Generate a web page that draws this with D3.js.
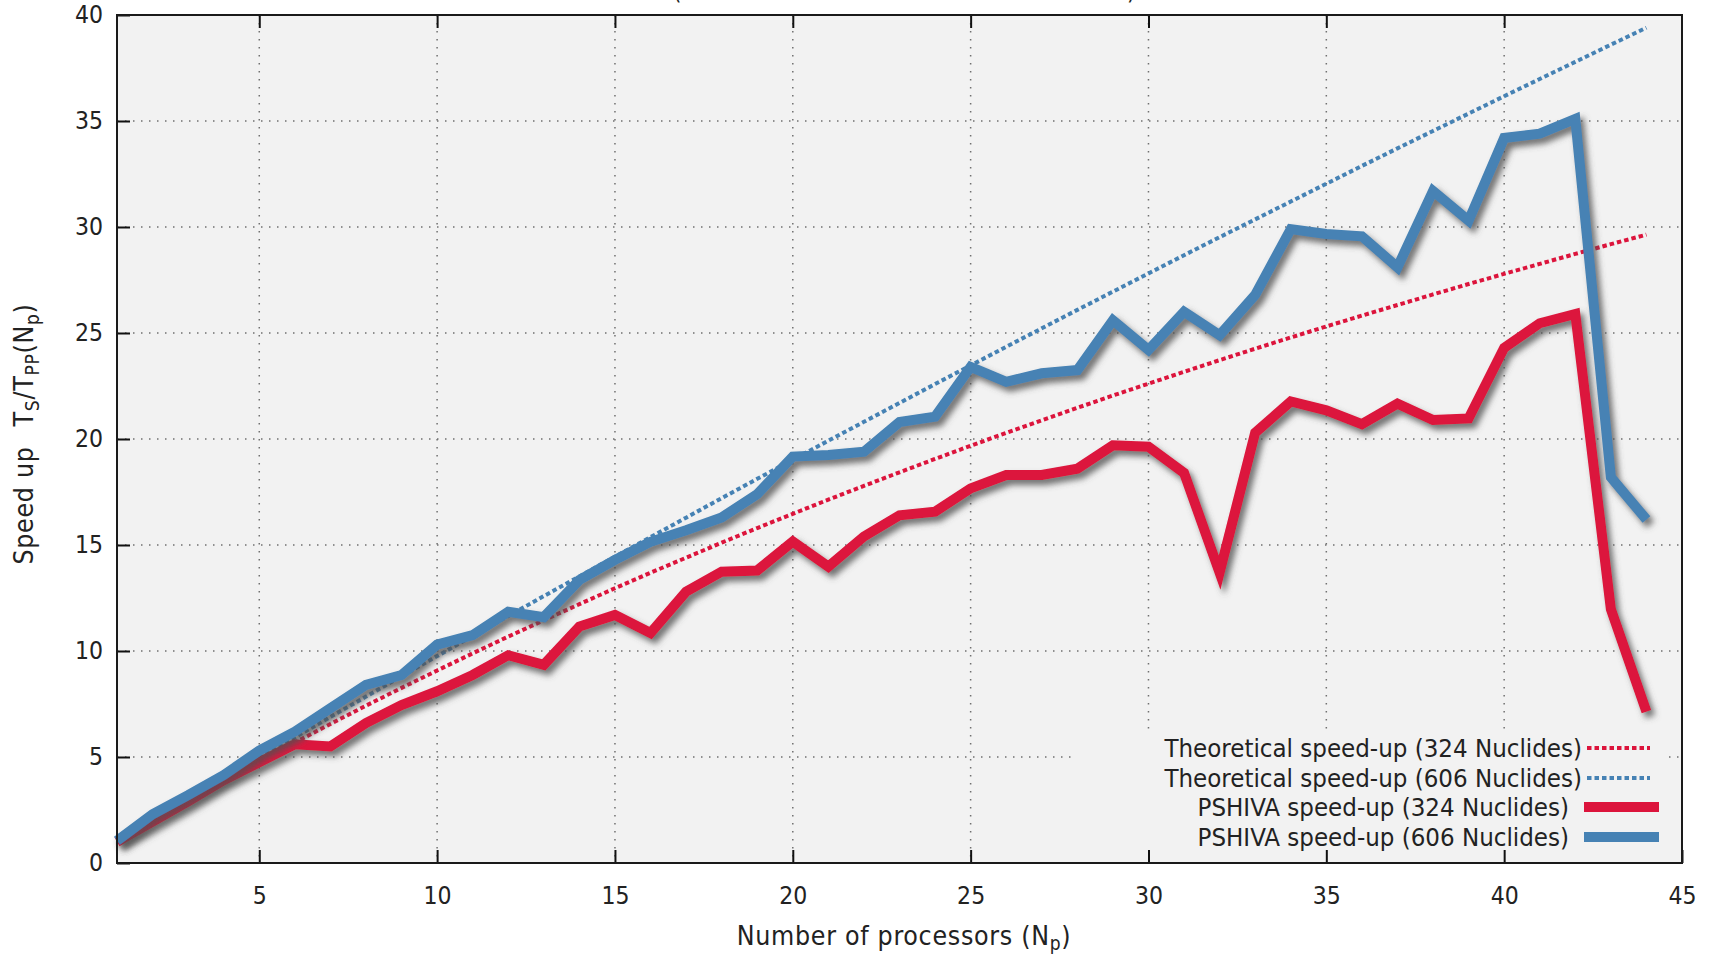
<html>
<style>
  body { margin: 0; background: white; }
  svg text, .axis text {
    font-family: "DejaVu Sans Condensed", "DejaVu Sans", sans-serif;
    font-stretch: condensed;
    fill: #222;
  }
  .axis .domain { stroke: none; }
  .axis line { stroke: #111; stroke-width: 2; }
  .gridlines line { stroke: #707070; stroke-width: 1.5; stroke-dasharray: 1.5 6.5; }
</style>

<head>
  <script src="https://d3js.org/d3.v7.min.js"></script>
</head>

<body>
  <svg id="chart" width="1713" height="957"></svg>
  <script>
    // values
    const processors = [1, 2, 3, 4, 5, 6, 7, 8, 9, 10, 11, 12, 13, 14, 15, 16, 17, 18, 19, 20, 21, 22,
      23, 24, 25, 26, 27, 28, 29, 30, 31, 32, 33, 34, 35, 36, 37, 38, 39, 40, 41, 42, 43, 44];

    const theory324 = [1.00, 1.98, 2.93, 3.87, 4.78, 5.68, 6.56, 7.42, 8.26, 9.08, 9.89, 10.68, 11.45, 12.21,
      12.96, 13.69, 14.40, 15.11, 15.80, 16.47, 17.14, 17.79, 18.43, 19.06, 19.68, 20.29, 20.88, 21.47, 22.05,
      22.61, 23.17, 23.72, 24.26, 24.79, 25.31, 25.82, 26.32, 26.82, 27.31, 27.79, 28.26, 28.73, 29.19, 29.64];

    const theory606 = [1.00, 1.99, 2.98, 3.97, 4.95, 5.92, 6.89, 7.85, 8.81, 9.76, 10.71, 11.65, 12.59, 13.52,
      14.45, 15.37, 16.29, 17.21, 18.12, 19.02, 19.92, 20.81, 21.70, 22.59, 23.47, 24.35, 25.22, 26.09, 26.95,
      27.81, 28.67, 29.52, 30.36, 31.20, 32.04, 32.88, 33.71, 34.53, 35.35, 36.17, 36.98, 37.79, 38.60, 39.40];

    const pshiva324 = [1.0, 1.95, 2.9, 3.9, 4.75, 5.6, 5.5, 6.6, 7.45, 8.1, 8.87, 9.8, 9.35, 11.15, 11.7, 10.85,
      12.8, 13.74, 13.8, 15.16, 13.98, 15.4, 16.4, 16.57, 17.67, 18.3, 18.3, 18.6, 19.7, 19.64, 18.4, 13.7,
      20.3, 21.77, 21.35, 20.7, 21.67, 20.9, 20.97, 24.3, 25.46, 25.9, 11.98, 7.14];

    const pshiva606 = [1.05, 2.3, 3.2, 4.15, 5.3, 6.2, 7.3, 8.4, 8.87, 10.3, 10.75, 11.85, 11.6, 13.35, 14.3,
      15.15, 15.7, 16.3, 17.4, 19.17, 19.25, 19.4, 20.8, 21.05, 23.4, 22.7, 23.1, 23.25, 25.6, 24.2, 26.0, 24.9,
      26.8, 29.9, 29.67, 29.56, 28.1, 31.7, 30.3, 34.2, 34.4, 35.1, 18.2, 16.2];

    const seriesNames = ["Theoretical speed-up (324 Nuclides)", "Theoretical speed-up (606 Nuclides)",
      "PSHIVA speed-up (324 Nuclides)", "PSHIVA speed-up (606 Nuclides)"];

    const xTicks = [5, 10, 15, 20, 25, 30, 35, 40, 45];
    const yTicks = [0, 5, 10, 15, 20, 25, 30, 35, 40];

    const svg = d3.select("svg#chart");
    const margin = { top: 15, right: 31, bottom: 94, left: 117 };
    const width = +svg.attr("width");
    const height = +svg.attr("height");
    const chartWidth = width - margin.left - margin.right;
    const chartHeight = height - margin.top - margin.bottom;

    const red = "#dc143c";
    const blue = "#4682b4";

    const x = d3.scaleLinear().domain([1, 45]).range([0, chartWidth]);
    const y = d3.scaleLinear().domain([0, 40]).range([chartHeight, 0]);

    const defs = svg.append("defs");
    const shadow = defs.append("filter").attr("id", "shadow")
      .attr("x", "-10%").attr("y", "-10%").attr("width", "120%").attr("height", "120%");
    shadow.append("feGaussianBlur").attr("in", "SourceAlpha").attr("stdDeviation", 3).attr("result", "blur");
    shadow.append("feOffset").attr("in", "blur").attr("dx", 4).attr("dy", 5).attr("result", "off");
    shadow.append("feFlood").attr("flood-color", "#505050").attr("flood-opacity", 0.8);
    shadow.append("feComposite").attr("in2", "off").attr("operator", "in").attr("result", "sh");
    let merge = shadow.append("feMerge");
    merge.append("feMergeNode").attr("in", "sh");
    merge.append("feMergeNode").attr("in", "SourceGraphic");

    // cut-off title fragments at the very top (the title lies above the picture)
    svg.append("text").attr("x", 673).attr("y", -1).attr("font-size", 24).text("(");
    svg.append("text").attr("x", 1127).attr("y", -1).attr("font-size", 24).text(")");

    const chart = svg.append("g").attr("transform", `translate(${margin.left},${margin.top})`);

    chart.append("rect")
      .attr("width", chartWidth).attr("height", chartHeight)
      .attr("fill", "#f2f2f2");

    // gridlines
    const grid = chart.append("g").attr("class", "gridlines");
    grid.selectAll("line.v").data(xTicks.filter(d => d < 45)).join("line")
      .attr("class", "v")
      .attr("x1", d => x(d)).attr("x2", d => x(d))
      .attr("y1", 0).attr("y2", chartHeight);
    grid.selectAll("line.h").data(yTicks.filter(d => d > 0 && d < 40)).join("line")
      .attr("class", "h")
      .attr("x1", 0).attr("x2", chartWidth)
      .attr("y1", d => y(d)).attr("y2", d => y(d));

    // opaque legend box hides the grid underneath
    chart.append("rect")
      .attr("x", 1076 - margin.left).attr("y", 733 - margin.top)
      .attr("width", 591).attr("height", chartHeight - (733 - margin.top))
      .attr("fill", "#f2f2f2");

    // axes
    chart.append("g").attr("class", "axis")
      .call(d3.axisLeft(y).tickValues(yTicks).tickSize(-13).tickPadding(14))
      .selectAll("text").attr("font-size", 24.5);
    chart.append("g").attr("class", "axis")
      .attr("transform", `translate(0,${chartHeight})`)
      .call(d3.axisBottom(x).tickValues(xTicks).tickSize(-13).tickPadding(24))
      .selectAll("text").attr("font-size", 24.5);
    chart.append("g").attr("class", "axis")
      .call(d3.axisTop(x).tickValues(xTicks.filter(d => d < 45)).tickSize(-13).tickFormat(""));

    // lines
    const line = d3.line().x((d, i) => x(processors[i])).y(d => y(d));

    chart.append("path").datum(theory324)
      .attr("d", line).attr("fill", "none")
      .attr("stroke", red).attr("stroke-width", 4).attr("stroke-dasharray", "4.5 3");
    chart.append("path").datum(theory606)
      .attr("d", line).attr("fill", "none")
      .attr("stroke", blue).attr("stroke-width", 4).attr("stroke-dasharray", "4.5 3");
    chart.append("path").datum(pshiva324)
      .attr("d", line).attr("fill", "none").attr("filter", "url(#shadow)")
      .attr("stroke", red).attr("stroke-width", 10).attr("stroke-linejoin", "miter");
    chart.append("path").datum(pshiva606)
      .attr("d", line).attr("fill", "none").attr("filter", "url(#shadow)")
      .attr("stroke", blue).attr("stroke-width", 10).attr("stroke-linejoin", "miter");

    // border
    chart.append("rect")
      .attr("width", chartWidth).attr("height", chartHeight)
      .attr("fill", "none").attr("stroke", "#1a1a1a").attr("stroke-width", 2);

    // legend
    const legendRows = [
      { name: seriesNames[0], color: red, dotted: true, textEnd: 1582, y: 748 },
      { name: seriesNames[1], color: blue, dotted: true, textEnd: 1582, y: 778 },
      { name: seriesNames[2], color: red, dotted: false, textEnd: 1569, y: 807 },
      { name: seriesNames[3], color: blue, dotted: false, textEnd: 1569, y: 837 }
    ];
    const legend = svg.append("g");
    legendRows.forEach(r => {
      legend.append("text")
        .attr("x", r.textEnd).attr("y", r.y + 9)
        .attr("text-anchor", "end").attr("font-size", 25.6)
        .text(r.name);
      legend.append("line")
        .attr("x1", r.dotted ? 1587 : 1584).attr("x2", r.dotted ? 1650 : 1659)
        .attr("y1", r.y).attr("y2", r.y)
        .attr("stroke", r.color)
        .attr("stroke-width", r.dotted ? 4 : 10)
        .attr("stroke-dasharray", r.dotted ? "4.5 3" : null);
    });

    // axis titles
    const xTitle = svg.append("text")
      .attr("x", 904).attr("y", 945)
      .attr("text-anchor", "middle").attr("font-size", 26.5)
      .attr("letter-spacing", 0.7);
    xTitle.append("tspan").text("Number of processors (N");
    xTitle.append("tspan").attr("font-size", 19).attr("dy", 5).text("p");
    xTitle.append("tspan").attr("dy", -5).text(")");

    const yTitle = svg.append("text")
      .attr("transform", "translate(33,434) rotate(-90)")
      .attr("text-anchor", "middle").attr("font-size", 26.5)
      .attr("letter-spacing", 0.7);
    yTitle.append("tspan").text("Speed up");
    yTitle.append("tspan").attr("dx", 20).text("T");
    yTitle.append("tspan").attr("font-size", 19).attr("dy", 6).text("S");
    yTitle.append("tspan").attr("dy", -6).text("/T");
    yTitle.append("tspan").attr("font-size", 19).attr("dy", 6).text("PP");
    yTitle.append("tspan").attr("dy", -6).text("(N");
    yTitle.append("tspan").attr("font-size", 19).attr("dy", 6).text("p");
    yTitle.append("tspan").attr("dy", -6).text(")");
  </script>
</body>

</html>
